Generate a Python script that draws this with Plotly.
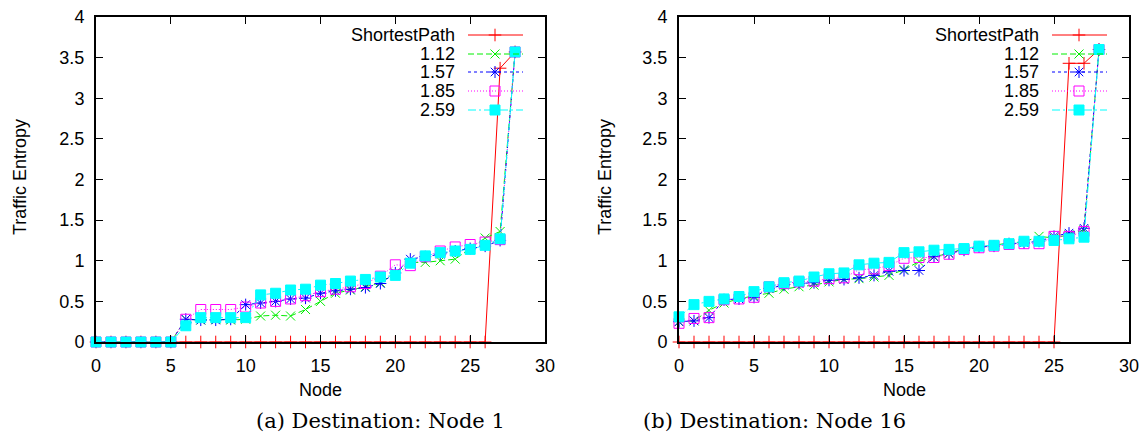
import plotly.graph_objects as go

nodes = list(range(29))
series_names = ["ShortestPath", "1.12", "1.57", "1.85", "2.59"]

# Panel (a): Destination Node 1
a_sp = [0.0] * 27 + [3.37, 3.57]
a_112 = [0, 0, 0, 0, 0, 0, 0.28, 0.27, 0.28, 0.27, 0.28, 0.32, 0.33, 0.32, 0.40, 0.50,
         0.60, 0.64, 0.68, 0.73, 0.85, 0.98, 0.98, 1.00, 1.02, 1.15, 1.28, 1.36, 3.57]
a_157 = [0, 0, 0, 0, 0, 0, 0.28, 0.27, 0.27, 0.28, 0.46, 0.48, 0.50, 0.53, 0.54, 0.60,
         0.63, 0.65, 0.67, 0.72, 0.85, 1.02, 1.05, 1.08, 1.12, 1.15, 1.18, 1.25, 3.57]
a_185 = [0, 0, 0, 0, 0, 0, 0.28, 0.40, 0.40, 0.40, 0.43, 0.48, 0.50, 0.53, 0.57, 0.62,
         0.65, 0.68, 0.72, 0.81, 0.95, 0.94, 1.05, 1.12, 1.17, 1.20, 1.23, 1.26, 3.57]
a_259 = [0, 0, 0, 0, 0, 0, 0.20, 0.30, 0.30, 0.30, 0.30, 0.58, 0.60, 0.64, 0.65, 0.70,
         0.72, 0.75, 0.77, 0.80, 0.82, 0.97, 1.06, 1.10, 1.12, 1.14, 1.19, 1.27, 3.57]

# Panel (b): Destination Node 16
b_sp = [0.0] * 26 + [3.43, 3.43, 3.60]
b_112 = [0.25, 0.26, 0.39, 0.48, 0.53, 0.57, 0.60, 0.65, 0.68, 0.70, 0.74, 0.77, 0.78, 0.80, 0.82,
         0.89, 0.99, 1.05, 1.09, 1.15, 1.17, 1.19, 1.22, 1.23, 1.30, 1.28, 1.32, 1.38, 3.60]
b_157 = [0.25, 0.26, 0.30, 0.52, 0.53, 0.55, 0.66, 0.70, 0.72, 0.73, 0.76, 0.77, 0.79, 0.82, 0.87,
         0.88, 0.88, 1.05, 1.09, 1.13, 1.17, 1.18, 1.21, 1.22, 1.24, 1.30, 1.34, 1.40, 3.60]
b_185 = [0.23, 0.29, 0.30, 0.52, 0.53, 0.55, 0.68, 0.72, 0.74, 0.75, 0.78, 0.79, 0.89, 0.90, 0.94,
         1.03, 1.04, 1.04, 1.08, 1.14, 1.16, 1.18, 1.20, 1.21, 1.21, 1.30, 1.30, 1.36, 3.60]
b_259 = [0.31, 0.46, 0.50, 0.53, 0.56, 0.62, 0.68, 0.73, 0.75, 0.80, 0.84, 0.85, 0.95, 0.97, 0.98,
         1.10, 1.11, 1.13, 1.14, 1.15, 1.18, 1.19, 1.21, 1.24, 1.24, 1.25, 1.27, 1.29, 3.60]

x_ticks = [0, 5, 10, 15, 20, 25, 30]
y_ticks = [0, 0.5, 1, 1.5, 2, 2.5, 3, 3.5, 4]
y_tick_text = ["0", "0.5", "1", "1.5", "2", "2.5", "3", "3.5", "4"]
captions = ["(a) Destination: Node 1", "(b) Destination: Node 16"]

W, H = 1146, 437
SANS = "Liberation Sans"
FS = 18

styles = [
    dict(color="#ff0000", dash="solid", symbol="cross-thin", size=9),
    dict(color="#00ee00", dash="6px,3px", symbol="x-thin", size=9),
    dict(color="#0000ff", dash="3px,3px", symbol="asterisk", size=10),
    dict(color="#ff00ff", dash="1px,2px", symbol="square-open", size=10),
    dict(color="#00ffff", dash="8px,3px,2px,3px", symbol="square", size=10),
]

# panel geometry in pixels
panels = [
    dict(x0=96, x1=545, data=[a_sp, a_112, a_157, a_185, a_259]),
    dict(x0=679, x1=1129, data=[b_sp, b_112, b_157, b_185, b_259]),
]
PY0, PY1 = 17, 342  # top, bottom pixel

fig = go.Figure()

for pi, p in enumerate(panels):
    xa = "x" if pi == 0 else "x2"
    ya = "y" if pi == 0 else "y2"
    for s, st, vals in zip(series_names, styles, p["data"]):
        mline = dict(width=1, color=st["color"])
        fig.add_trace(go.Scatter(
            x=nodes, y=vals, mode="lines+markers", name=s, showlegend=False,
            xaxis=xa, yaxis=ya, cliponaxis=False,
            line=dict(color=st["color"], width=1, dash=st["dash"]),
            marker=dict(symbol=st["symbol"], size=st["size"], color=st["color"], line=mline),
        ))

# custom gnuplot-style key (text left, sample right) on pixel-unit overlay axes
pw = [p["x1"] - p["x0"] for p in panels]
ph = PY1 - PY0
row_px = [35, 54, 72, 91, 110]
for pi, p in enumerate(panels):
    xa = "x3" if pi == 0 else "x4"
    ya = "y3" if pi == 0 else "y4"
    w = pw[pi]
    sx0, sx1, sxm = w - 77, w - 22, w - 50
    for s, st, ry in zip(series_names, styles, row_px):
        yy = PY1 - ry
        fig.add_trace(go.Scatter(
            x=[sx0, sx1], y=[yy, yy], mode="lines", showlegend=False, xaxis=xa, yaxis=ya,
            line=dict(color=st["color"], width=1, dash=st["dash"]), hoverinfo="skip"))
        fig.add_trace(go.Scatter(
            x=[sxm], y=[yy], mode="markers", showlegend=False, xaxis=xa, yaxis=ya,
            marker=dict(symbol=st["symbol"], size=st["size"], color=st["color"],
                        line=dict(width=1, color=st["color"])), hoverinfo="skip"))
        fig.add_annotation(x=w - 88, y=yy, xref=xa, yref=ya, text=s, showarrow=False,
                           xanchor="right", yanchor="middle",
                           font=dict(family=SANS, size=FS, color="black"))

ydom = [(H - PY1) / H, (H - PY0) / H]
axis_common = dict(showline=True, linecolor="black", linewidth=2, mirror="ticks",
                   ticks="inside", ticklen=7, tickcolor="black", tickwidth=1,
                   showgrid=False, zeroline=False, automargin=False,
                   tickfont=dict(family=SANS, size=FS, color="black"))
layout = dict(
    width=W, height=H, margin=dict(l=0, r=0, t=0, b=0, autoexpand=False),
    paper_bgcolor="white", plot_bgcolor="white", showlegend=False,
)
for pi, p in enumerate(panels):
    dom = [p["x0"] / W, p["x1"] / W]
    sx = "" if pi == 0 else "2"
    layout["xaxis" + sx] = dict(domain=dom, range=[0, 30], tickvals=x_ticks, anchor="y" + sx,
                                ticklabelstandoff=6, **axis_common)
    layout["yaxis" + sx] = dict(domain=ydom, range=[0, 4], tickvals=y_ticks, ticktext=y_tick_text,
                                anchor="x" + sx, ticklabelstandoff=6, **axis_common)
    ox = "3" if pi == 0 else "4"
    layout["xaxis" + ox] = dict(domain=dom, range=[0, pw[pi]], overlaying="x" + sx,
                                anchor="y" + ox, visible=False, fixedrange=True, automargin=False)
    layout["yaxis" + ox] = dict(domain=ydom, range=[0, ph], overlaying="y" + sx,
                                anchor="x" + ox, visible=False, fixedrange=True, automargin=False)
fig.update_layout(**layout)

# axis titles and captions
title_font = dict(family=SANS, size=FS, color="black")
for pi, p in enumerate(panels):
    cx = (p["x0"] + p["x1"]) / 2
    fig.add_annotation(x=cx / W, y=(H - 390) / H, xref="paper", yref="paper", text="Node",
                       showarrow=False, xanchor="center", yanchor="middle", font=title_font)
    ylab_x = [20, 605][pi]
    fig.add_annotation(x=ylab_x / W, y=(H - 177) / H, xref="paper", yref="paper",
                       text="Traffic Entropy", textangle=-90, showarrow=False,
                       xanchor="center", yanchor="middle", font=title_font)
    cap_x = [380, 774][pi]
    fig.add_annotation(x=cap_x / W, y=(H - 421) / H, xref="paper", yref="paper",
                       text=captions[pi], showarrow=False, xanchor="center", yanchor="middle",
                       font=dict(family="DejaVu Serif", size=21, color="black"))

fig.write_html("out.html", config={"displayModeBar": False},
               post_script="document.body.style.margin='0px';document.body.style.padding='0px';")
